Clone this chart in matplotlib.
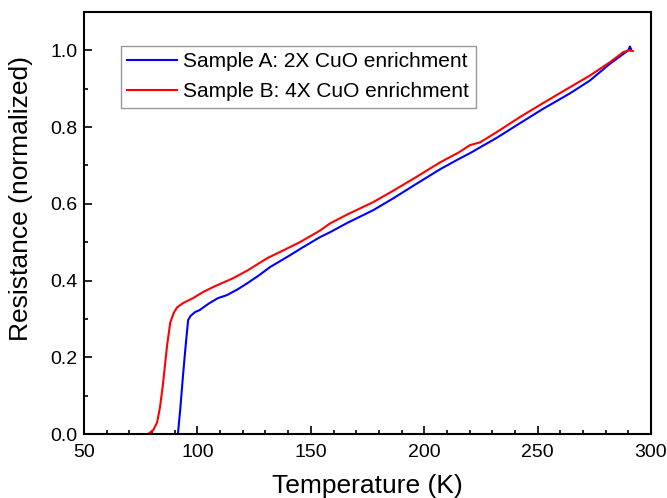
import numpy as np
import matplotlib.pyplot as plt
from matplotlib.ticker import MultipleLocator

plt.rcParams['font.family'] = ['Liberation Sans', 'DejaVu Sans']

# Sample A: 2X CuO enrichment
temp_a = [91.4, 92.5, 93.6, 94.8, 95.9, 97.0, 99.0, 101.0, 105.0, 109.0, 113.0,
          118.0, 122.0, 127.0, 132.0, 140.0, 146.6, 154.0, 158.5, 166.0, 177.4,
          186.0, 196.0, 207.0, 215.0, 220.2, 224.6, 232.0, 242.2, 252.0, 264.3,
          273.0, 281.9, 287.0, 290.0, 290.7, 291.2]
res_a = [0.0, 0.07, 0.15, 0.23, 0.297, 0.308, 0.318, 0.323, 0.340, 0.354, 0.362,
         0.378, 0.393, 0.413, 0.435, 0.463, 0.487, 0.513, 0.526, 0.550, 0.583,
         0.613, 0.650, 0.690, 0.716, 0.732, 0.747, 0.772, 0.810, 0.846, 0.888,
         0.921, 0.965, 0.987, 1.0, 1.01, 1.003]

# Sample B: 4X CuO enrichment
temp_b = [78.2, 80.5, 82.2, 83.5, 84.8, 85.7, 86.6, 88.0, 89.5, 91.0, 93.6,
          98.0, 102.5, 106.9, 115.7, 122.0, 130.7, 138.0, 145.2, 154.0, 158.5,
          166.0, 177.4, 186.0, 196.0, 207.0, 215.0, 220.2, 224.6, 232.0, 242.2,
          252.0, 264.3, 273.0, 281.9, 287.7, 290.0, 292.0]
res_b = [0.0, 0.01, 0.03, 0.07, 0.13, 0.18, 0.23, 0.29, 0.315, 0.33, 0.341,
         0.354, 0.370, 0.383, 0.406, 0.426, 0.458, 0.479, 0.500, 0.530, 0.549,
         0.572, 0.604, 0.633, 0.668, 0.708, 0.733, 0.753, 0.760, 0.787, 0.826,
         0.861, 0.904, 0.934, 0.969, 0.995, 1.0, 0.998]

fig = plt.figure(figsize=(6.67, 4.98), dpi=100)
ax = fig.add_axes([0.126, 0.1285, 0.85, 0.8475])

ax.plot(temp_a, res_a, color='#0000ff', lw=1.5, label='Sample A: 2X CuO enrichment')
ax.plot(temp_b, res_b, color='#ff0000', lw=1.5, label='Sample B: 4X CuO enrichment')

ax.set_xlim(50, 300)
ax.set_ylim(0, 1.1)
ax.xaxis.set_major_locator(MultipleLocator(50))
ax.xaxis.set_minor_locator(MultipleLocator(10))
ax.yaxis.set_major_locator(MultipleLocator(0.2))
ax.yaxis.set_minor_locator(MultipleLocator(0.1))
ax.yaxis.set_major_formatter(plt.FormatStrFormatter('%.1f'))

ax.tick_params(which='both', direction='in', top=False, right=False, labelsize=14, width=1.2)
ax.tick_params(which='major', length=6)
ax.tick_params(which='minor', length=3)
ax.tick_params(axis='y', pad=4.5)
ax.tick_params(axis='x', pad=7)
for s in ax.spines.values():
    s.set_linewidth(1.5)

ax.set_xlabel('Temperature (K)', fontsize=19)
ax.set_ylabel('Resistance (normalized)', fontsize=19)
ax.xaxis.set_label_coords(0.5, -0.095)
ax.yaxis.set_label_coords(-0.09, 0.559)

leg = ax.legend(loc='upper left', bbox_to_anchor=(0.065, 0.92), borderaxespad=0,
                fontsize=15, fancybox=False, handlelength=2.4, handletextpad=0.3,
                borderpad=0.3, labelspacing=0.55, framealpha=1)
leg.get_frame().set_edgecolor('#999999')
leg.get_frame().set_linewidth(1.0)

fig.savefig('out.png', dpi=100)
